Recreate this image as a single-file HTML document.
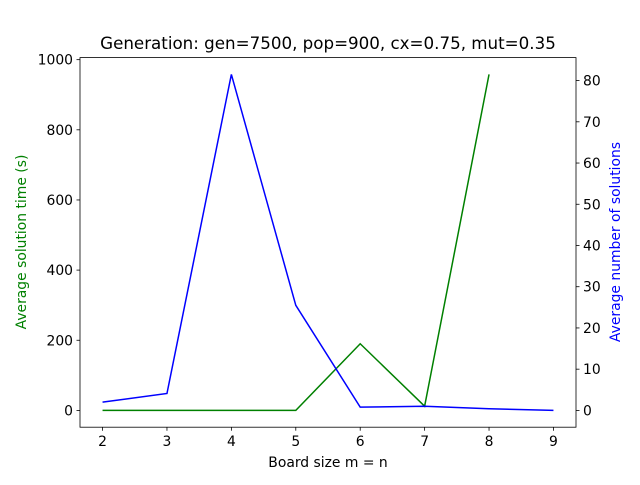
<!DOCTYPE html>
<html><head><meta charset="utf-8"><style>
body{margin:0;background:#fff;}
svg text{font-family:"DejaVu Sans","Liberation Sans",sans-serif;}
</style></head><body>
<svg id="chart" width="640" height="480" xmlns="http://www.w3.org/2000/svg"></svg>
<script>
const boardSizes=[2,3,4,5,6,7,8,9];
const timeSizes=[2,3,4,5,6,7,8];
const avgTime=[0,0,0,0,190,12,958];
const avgSolutions=[2,4.1,81.5,25.5,0.8,1.0,0.4,0];
const leftTicks=[0,200,400,600,800,1000];
const rightTicks=[0,10,20,30,40,50,60,70,80];
const L=80,R=576,T=57.6,B=427.2;
const xs=v=>L+(v-1.65)/(9.35-1.65)*(R-L);
const yl=v=>B-(v-(-47.9))/(1005.9+47.9)*(B-T);
const yr=v=>B-(v-(-4.075))/(85.575+4.075)*(B-T);
const svg=document.getElementById('chart');
const NS='http://www.w3.org/2000/svg';
function mk(tag,attrs,parent){const e=document.createElementNS(NS,tag);for(const k in attrs)e.setAttribute(k,attrs[k]);(parent||svg).appendChild(e);return e;}
function txt(s,attrs){const e=mk('text',attrs);e.textContent=s;return e;}
let g=mk('polyline',{points:timeSizes.map((x,i)=>xs(x)+','+yl(avgTime[i])).join(' '),fill:'none',stroke:'green','stroke-width':1.5});


let b=mk('polyline',{points:boardSizes.map((x,i)=>xs(x)+','+yr(avgSolutions[i])).join(' '),fill:'none',stroke:'blue','stroke-width':1.5});


let f=mk('rect',{x:L,y:T,width:R-L,height:B-T,fill:'none',stroke:'#000','stroke-width':0.8});


boardSizes.forEach(v=>{const x=xs(v);mk('line',{x1:x,x2:x,y1:B,y2:B+3.5,stroke:'#000','stroke-width':0.8});
 const t=txt(String(v),{x:x,y:B+19,'font-size':13.9,'text-anchor':'middle'});
 
 });
leftTicks.forEach(v=>{const y=yl(v);mk('line',{x1:L,x2:L-3.5,y1:y,y2:y,stroke:'#000','stroke-width':0.8});
 const t=txt(String(v),{x:L-7,y:y+5,'font-size':13.9,'text-anchor':'end'});
 
 });
rightTicks.forEach(v=>{const y=yr(v);mk('line',{x1:R,x2:R+3.5,y1:y,y2:y,stroke:'#000','stroke-width':0.8});
 const t=txt(String(v),{x:R+7,y:y+5,'font-size':13.9,'text-anchor':'start'});
 
 });
let t1=txt('Generation: gen=7500, pop=900, cx=0.75, mut=0.35',{x:(L+R)/2,y:49,'font-size':16.7,'text-anchor':'middle'});


let t2=txt('Board size m = n',{x:(L+R)/2,y:467,'font-size':13.9,'text-anchor':'middle'});


let t3=txt('Average solution time (s)',{x:0,y:0,'font-size':13.9,'text-anchor':'middle',fill:'green',transform:'translate(26,242) rotate(-90)'});


let t4=txt('Average number of solutions',{x:0,y:0,'font-size':13.9,'text-anchor':'middle',fill:'blue',transform:'translate(620,242) rotate(-90)'});


</script>
</body></html>
